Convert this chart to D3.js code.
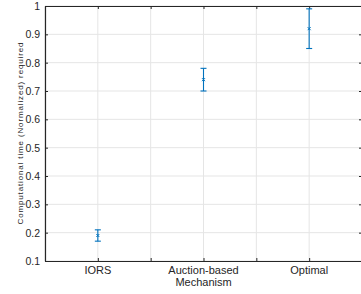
<!DOCTYPE html>
<html>
<head>
<meta charset="utf-8">
<script src="https://cdn.jsdelivr.net/npm/d3@7"></script>
<style>
body { margin: 0; background: #fff; }
text { font-family: "Liberation Sans", Arial, sans-serif; }
</style>
</head>
<body>
<div id="chart"></div>
<script>
// data
var categories = ["IORS", "Auction-based\nMechanism", "Optimal"];
var means = [0.19, 0.74, 0.92];
var upper = [0.21, 0.78, 0.99];
var lower = [0.17, 0.70, 0.85];
var yTicks = [0.1, 0.2, 0.3, 0.4, 0.5, 0.6, 0.7, 0.8, 0.9, 1];
var xTicks = [0.5, 1, 1.5, 2, 2.5, 3, 3.5];

var W = 361, H = 294;
var pLeft = 45, pTop = 6, pRight = 362, pBottom = 261;
var blue = "#0072bd";

var svg = d3.select("#chart").append("svg").attr("width", W).attr("height", H);

var x = d3.scaleLinear().domain([0.5, 3.5]).range([pLeft, pRight]);
var y = d3.scaleLinear().domain([0.1, 1]).range([pBottom, pTop]);

// grid
svg.append("g").selectAll("line").data(xTicks).enter().append("line")
	.attr("x1", function(d) { return x(d); }).attr("x2", function(d) { return x(d); })
	.attr("y1", pTop).attr("y2", pBottom)
	.attr("stroke", "#e5e5e5").attr("stroke-width", 1);
svg.append("g").selectAll("line").data(yTicks).enter().append("line")
	.attr("x1", pLeft).attr("x2", pRight)
	.attr("y1", function(d) { return y(d); }).attr("y2", function(d) { return y(d); })
	.attr("stroke", "#e5e5e5").attr("stroke-width", 1);

// axes
var yAxis = d3.axisLeft(y).tickValues(yTicks).tickSizeInner(-3).tickSizeOuter(0).tickPadding(5)
	.tickFormat(function(d) { return d3.format("")(+d.toFixed(1)); });
var gy = svg.append("g").attr("transform", "translate(" + pLeft + ",0)").call(yAxis);
var yRight = d3.axisRight(y).tickValues(yTicks).tickSizeInner(-3).tickSizeOuter(0).tickFormat("");
var gyr = svg.append("g").attr("transform", "translate(" + pRight + ",0)").call(yRight);
var xAxis = d3.axisBottom(x).tickValues(xTicks).tickSizeInner(-3).tickSizeOuter(0).tickFormat("");
var gx = svg.append("g").attr("transform", "translate(0," + pBottom + ")").call(xAxis);
var xTop = d3.axisTop(x).tickValues(xTicks).tickSizeInner(-3).tickSizeOuter(0).tickFormat("");
var gxt = svg.append("g").attr("transform", "translate(0," + pTop + ")").call(xTop);

[gy, gyr, gx, gxt].forEach(function(g) {
	g.select(".domain").attr("stroke", "#262626").attr("stroke-width", 1.2);
	g.selectAll(".tick line").attr("stroke", "#262626");
});
gy.selectAll(".tick text").attr("font-size", "10.5px").attr("fill", "#262626");

// category labels
var labels = svg.append("g");
categories.forEach(function(c, i) {
	var t = labels.append("text").attr("x", x(i + 1)).attr("y", pBottom + 13)
		.attr("text-anchor", "middle").attr("font-size", "11px").attr("fill", "#262626");
	c.split("\n").forEach(function(line, j) {
		t.append("tspan").attr("x", x(i + 1)).attr("dy", j == 0 ? 0 : 12).text(line);
	});
});

// y label
svg.append("text")
	.attr("transform", "translate(23," + ((pTop + pBottom) / 2) + ") rotate(-90)")
	.attr("text-anchor", "middle").attr("font-size", "8px").attr("fill", "#262626")
	.attr("textLength", 182).attr("lengthAdjust", "spacing")
	.text("Computational time (Normalized) required");

// error bars
var eb = svg.append("g");
means.forEach(function(m, i) {
	var cx = x(i + 1);
	eb.append("line").attr("x1", cx).attr("x2", cx).attr("y1", y(lower[i])).attr("y2", y(upper[i]))
		.attr("stroke", blue).attr("stroke-width", 1.1);
	[lower[i], upper[i]].forEach(function(v) {
		eb.append("line").attr("x1", cx - 3).attr("x2", cx + 3).attr("y1", y(v)).attr("y2", y(v))
			.attr("stroke", blue).attr("stroke-width", 1.1);
	});
	var cy = y(m), s = 1.5;
	eb.append("path").attr("d", "M" + (cx - s) + "," + (cy - s) + "L" + (cx + s) + "," + (cy + s) +
		"M" + (cx - s) + "," + (cy + s) + "L" + (cx + s) + "," + (cy - s))
		.attr("stroke", blue).attr("stroke-width", 1).attr("fill", "none");
});
</script>
</body>
</html>
